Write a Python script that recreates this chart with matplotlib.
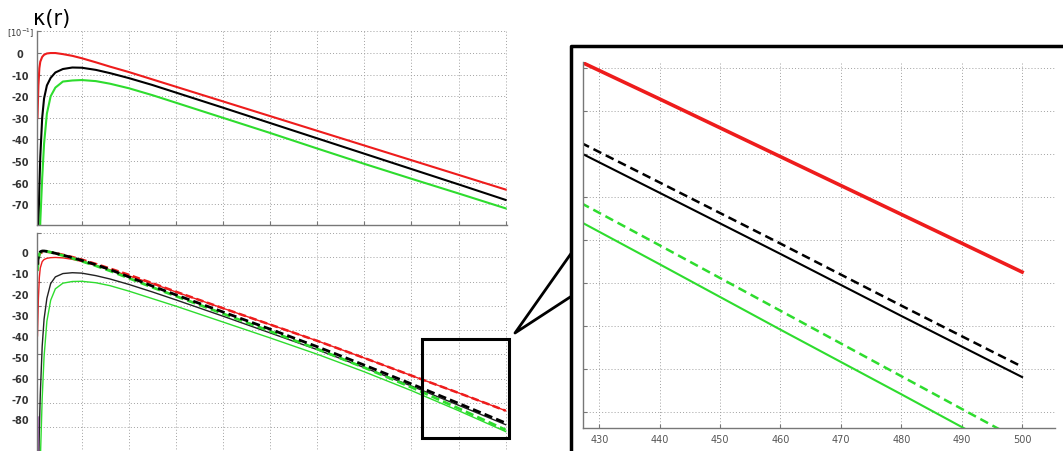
import numpy as np
import matplotlib
matplotlib.use("Agg")
import matplotlib.pyplot as plt
from matplotlib.patches import Rectangle
from matplotlib.ticker import FixedLocator

# ---------------- data ----------------
r_pts = [3, 4, 5, 6, 8, 10, 13, 17, 22, 30, 40, 50, 65, 80, 100, 125, 150,
         200, 250, 300, 350, 400, 450, 500]

# top panel  (units of 10^-1)
top_red   = [-30, -15, -7, -4, -1.8, -0.8, -0.2, 0, 0, -0.5, -1.3, -2.4, -4.3,
             -6.3, -8.8, -12.2, -15.6, -22.4, -29.2, -36.0, -42.8, -49.6, -56.4, -63.2]
top_black = [-95, -80, -62, -48, -30, -21, -15, -11.5, -9, -7.4, -6.7, -6.8, -7.8,
             -9.3, -11.6, -14.8, -18.3, -25.3, -32.4, -39.5, -46.6, -53.7, -60.8, -68.0]
top_green = [-150, -120, -95, -78, -58, -42, -28, -20, -16, -13.2, -12.7, -12.5, -13.0,
             -14.2, -16.3, -19.5, -23.0, -30.0, -37.0, -44.2, -51.3, -58.2, -65.0, -71.9]

# bottom panel
bot_red_solid   = [-40, -22, -12, -7.5, -4.5, -3.5, -2.9, -2.6, -2.5, -2.7, -3.4, -4.4, -6.3,
                   -8.4, -11.3, -15.0, -19.0, -26.8, -34.6, -42.4, -50.6, -59.0, -67.3, -75.8]
bot_red_dashed  = [-8, -3, -1.2, -0.4, 0, 0.2, 0.2, 0, -0.4, -1.2, -2.3, -3.5, -5.6,
                   -7.8, -10.8, -14.8, -18.9, -26.8, -34.6, -42.4, -50.6, -59.0, -67.3, -75.8]
bot_black_solid = [-140, -110, -85, -68, -45, -32, -22, -15, -11.8, -10.2, -9.8, -10.0, -11.2,
                   -12.8, -15.4, -19.0, -22.8, -30.6, -38.6, -46.6, -55.2, -64.0, -73.2, -82.5]
bot_black_dash  = [-6, -2, -0.5, 0.2, 0.6, 0.6, 0.4, 0, -0.5, -1.4, -2.6, -3.9, -6.0,
                   -8.3, -11.8, -16.2, -20.4, -28.6, -36.8, -45.2, -54.0, -63.0, -72.3, -81.7]
bot_green_solid = [-200, -160, -125, -100, -70, -50, -33, -23, -17.5, -14.8, -14.0, -13.9, -14.6,
                   -16.0, -18.6, -22.2, -25.8, -33.4, -41.0, -48.8, -57.2, -66.2, -75.8, -85.8]
bot_green_dash  = [-9, -3, -1, 0, 0.6, 0.6, 0.4, 0, -0.6, -1.6, -2.9, -4.3, -6.5,
                   -8.9, -12.4, -16.8, -21.0, -29.4, -37.8, -46.3, -55.2, -64.6, -74.7, -85.0]
purple_r = [3.0, 3.2]
purple_v = [-110, -79]

# inset (zoom of 427..505)
inset_r          = [427, 440, 460, 480, 500]
inset_red        = [-39.3, -43.6, -50.3, -57.0, -63.7]
inset_black      = [-49.9, -54.5, -61.6, -68.8, -75.9]
inset_black_dash = [-48.7, -53.3, -60.4, -67.6, -74.7]
inset_green      = [-57.9, -62.8, -70.4, -77.9, -85.5]
inset_green_dash = [-55.7, -60.6, -68.2, -75.8, -83.4]

x_ticks_main = [50, 100, 150, 200, 250, 300, 350, 400, 450, 500]
top_yticks = [10, 0, -10, -20, -30, -40, -50, -60, -70]
top_ylabels = ["[10$^{-1}$]", "0", "-10", "-20", "-30", "-40", "-50", "-60", "-70"]
bot_yticks = [0, -10, -20, -30, -40, -50, -60, -70, -80]
bot_ylabels = ["0", "-10", "-20", "-30", "-40", "-50", "-60", "-70", "-80"]
inset_xticks = [430, 440, 450, 460, 470, 480, 490, 500]
inset_yticks = [-40, -45, -50, -55, -60, -65, -70, -75, -80]

# ---------------- style ----------------
W, H = 1063, 452
RED = "#ee1c1c"
GREEN = "#2edc2e"
BLACK = "#000000"
PURPLE = "#9a3fb0"
SPINE = "#777777"
GRID = dict(color="#a0a0a0", linestyle=(0, (1, 2.2)), linewidth=0.7)

fig = plt.figure(figsize=(W / 100, H / 100), dpi=100)


def px_axes(left, top, right, bottom):
    return fig.add_axes([left / W, 1 - bottom / H, (right - left) / W, (bottom - top) / H])


def style_axes(ax):
    for s in ("top", "right"):
        ax.spines[s].set_visible(False)
    for s in ("left", "bottom"):
        ax.spines[s].set_color(SPINE)
        ax.spines[s].set_linewidth(1.0)
    ax.tick_params(which="both", direction="in", length=3, color=SPINE, width=0.8)
    ax.set_facecolor("none")


# ---- top panel ----
ax1 = px_axes(37, 32, 506.6, 226)
style_axes(ax1)
ax1.set_xlim(2.5, 501)
ax1.set_ylim(-79.6, 10.2)
ax1.plot(r_pts, top_red, color=RED, lw=1.5)
ax1.plot(r_pts, top_black, color=BLACK, lw=1.5)
ax1.plot(r_pts, top_green, color=GREEN, lw=1.5)
ax1.set_xticks(x_ticks_main)
ax1.set_xticklabels([])
ax1.set_yticks(top_yticks)
ax1.set_yticklabels(top_ylabels)
ax1.tick_params(axis="y", pad=12, labelsize=7, labelcolor="#333333")
for lab in ax1.get_yticklabels():
    lab.set_ha("center")
    lab.set_fontweight("bold")
ax1.get_yticklabels()[0].set_fontsize(6)
ax1.get_yticklabels()[0].set_fontweight("normal")
ax1.grid(True, **GRID)
fig.text(51.5 / W, 1 - 18.5 / H, "κ(r)", fontsize=15, ha="center", va="center")

# ---- bottom panel ----
ax2 = px_axes(37, 234, 506.6, 470)
style_axes(ax2)
ax2.spines["bottom"].set_visible(False)
ax2.set_xlim(2.5, 501)
ax2.set_ylim(-103.7, 9.2)
ax2.plot(r_pts, bot_green_solid, color=GREEN, lw=1.0)
ax2.plot(r_pts, bot_black_solid, color="#222222", lw=1.0)
ax2.plot(r_pts, bot_red_solid, color=RED, lw=1.0)
ax2.plot(r_pts, bot_red_dashed, color=RED, lw=1.8, dashes=(3, 1.5))
ax2.plot(r_pts, bot_green_dash, color=GREEN, lw=2.0, dashes=(3, 1.5))
ax2.plot(r_pts, bot_black_dash, color=BLACK, lw=2.0, dashes=(3, 1.5))
ax2.plot(purple_r, purple_v, color=PURPLE, lw=1.5)
ax2.set_xticks(x_ticks_main)
ax2.set_xticklabels([])
ax2.set_yticks(bot_yticks)
ax2.set_yticklabels(bot_ylabels)
ax2.tick_params(axis="y", which="major", length=0, pad=6, labelsize=7, labelcolor="#333333")
for lab in ax2.get_yticklabels():
    lab.set_fontweight("bold")
grid_start, grid_step = 9.2, 11.62
ax2.yaxis.set_minor_locator(FixedLocator([grid_start - grid_step * k for k in range(10)]))
ax2.grid(True, axis="x", **GRID)
ax2.grid(True, axis="y", which="minor", **GRID)
ax2.add_patch(Rectangle((411.7, -88.8), 503.3 - 411.7, -41.7 + 88.8, fill=False,
                        ec="black", lw=2.2, clip_on=False, zorder=5))

# ---- inset ----
ax3 = px_axes(582.7, 63, 1055, 429)
style_axes(ax3)
ax3.set_xlim(427.25, 505.45)
ax3.set_ylim(-81.82, -39.3)
ax3.plot(inset_r, inset_red, color=RED, lw=2.6)
ax3.plot(inset_r, inset_black_dash, color=BLACK, lw=1.8, dashes=(3.5, 2))
ax3.plot(inset_r, inset_black, color=BLACK, lw=1.5)
ax3.plot(inset_r, inset_green_dash, color=GREEN, lw=1.8, dashes=(3.5, 2))
ax3.plot(inset_r, inset_green, color=GREEN, lw=1.5)
ax3.set_xticks(inset_xticks)
ax3.set_yticks(inset_yticks)
ax3.set_yticklabels([])
ax3.tick_params(axis="x", labelsize=7, labelcolor="#555555", pad=4)
ax3.grid(True, **GRID)

# ---- overlay for frame and wedge (pixel coordinates) ----
ov = fig.add_axes([0, 0, 1, 1], zorder=10)
ov.set_xlim(0, W)
ov.set_ylim(H, 0)
ov.axis("off")
ov.set_facecolor("none")
ov.plot([570.7, 570.7, 1075, 1075, 570.7], [470, 47, 47, 470, 470], color="black", lw=2.5,
        clip_on=False)
ov.plot([570.7, 515, 570.7], [255, 334, 297.7], color="black", lw=2.0)

fig.savefig("out.png", dpi=100)
